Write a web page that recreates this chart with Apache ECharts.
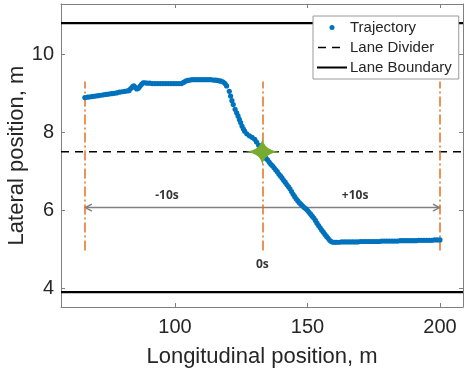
<!DOCTYPE html>
<html>
<head>
<meta charset="utf-8">
<script src="https://cdn.jsdelivr.net/npm/echarts@6/dist/echarts.min.js"></script>
<style>html,body{margin:0;padding:0;background:#fff;}#c{width:465px;height:369px;}</style>
</head>
<body>
<div id="c"></div>
<script>
// ---- data ----
const xRange = [57, 208.7];
const yRange = [3.52, 11.29];
const xTicks = [100, 150, 200];
const yTicks = [4, 6, 8, 10];
const laneBoundaryY = [10.8, 3.9];
const laneDividerY = 7.5;
const markerX = [66, 133, 200];
const markerYSpan = [4.97, 9.3];
const arrowX = [66, 133, 200];
const arrowY = 6.07;
const timeLabels = ['-10s', '0s', '+10s'];
const timeLabelX = [97, 133, 168];
const timeLabelY = [6.37, 4.62, 6.37];
const crossingPoint = [133, 7.5];
const trajectoryBefore = [
  [66,8.89],[67,8.90],[68,8.91],[69,8.92],[70,8.93],[71,8.94],[72,8.95],[73,8.96],[74,8.97],[75,8.98],
  [76,8.99],[77,9.00],[78,9.01],[79,9.03],[80,9.04],[81,9.05],[82,9.06],[82.7,9.07],[83.3,9.12],[84,9.17],
  [84.5,9.19],[85,9.15],[85.6,9.11],[86.2,9.13],[86.8,9.18],[87.4,9.23],[88,9.27],[88.7,9.27],[89.5,9.26],[90.5,9.26],
  [91.5,9.25],[92.5,9.25],[93.5,9.25],[94.5,9.25],[95.5,9.25],[96.5,9.25],[97.5,9.25],[98.5,9.25],[99.5,9.25],[100.5,9.25],
  [101.5,9.25],[102.5,9.25],[103.2,9.28],[104,9.31],[104.8,9.33],[105.6,9.34],[106.5,9.35],[107.5,9.35],[108.5,9.35],[109.5,9.35],
  [110.5,9.35],[111.5,9.35],[112.5,9.35],[113.5,9.35],[114.5,9.34],[115.3,9.34],[116,9.33],[116.7,9.32],[117.4,9.31],[118.2,9.29],
  [118.9,9.25],[119.5,9.19],[120.5,9.05],[121.0,8.93],[121.5,8.81],[122.0,8.71],[122.7,8.59],[123.3,8.50],[123.8,8.42],[124.3,8.33],
  [124.8,8.25],[125.3,8.16],[125.8,8.09],[126.3,8.03],[127.1,7.96],[128.1,7.91],[129.1,7.87],[130.1,7.82],[130.8,7.75],[131.6,7.67],
  [132.1,7.58],[132.6,7.49]
];
const trajectoryAfter = [
  [133.2,7.43],[133.8,7.38],[134.4,7.33],[135.0,7.29],[135.6,7.23],[136.2,7.18],[136.8,7.14],[137.4,7.09],[138.0,7.04],[138.6,6.99],
  [139.2,6.93],[139.8,6.88],[140.4,6.83],[141.0,6.77],[141.6,6.72],[142.2,6.66],[142.8,6.61],[143.4,6.55],[144.0,6.48],[144.6,6.41],
  [145.2,6.35],[145.8,6.29],[146.4,6.24],[147.0,6.19],[147.6,6.15],[148.2,6.11],[148.8,6.07],[149.4,6.04],[150.0,6.00],[150.6,5.95],
  [151.2,5.90],[151.8,5.85],[152.4,5.80],[153.0,5.74],[153.6,5.67],[154.2,5.61],[154.8,5.55],[155.4,5.49],[156.0,5.44],[156.6,5.38],
  [157.2,5.33],[157.8,5.28],[158.4,5.23],[159.0,5.20],[159.6,5.18],[160.3,5.18],[161,5.18],[162,5.18],[163,5.19],[164,5.19],
  [165,5.19],[166,5.19],[167,5.19],[168,5.19],[169,5.19],[170,5.20],[171,5.20],[172,5.20],[173,5.20],[174,5.20],
  [175,5.20],[176,5.20],[177,5.20],[178,5.21],[179,5.21],[180,5.21],[181,5.21],[182,5.21],[183,5.21],[184,5.21],
  [185,5.22],[186,5.22],[187,5.22],[188,5.22],[189,5.22],[190,5.22],[191,5.22],[192,5.23],[193,5.23],[194,5.23],
  [195,5.23],[196,5.23],[197,5.23],[198,5.24],[199,5.24],[200,5.24]
];

// ---- styles ----
const FONT = 'Liberation Sans, Arial, sans-serif';
const AXIS_GRAY = '#808080';
const TEXT = '#262626';
const BLUE = '#0072BD';
const ORANGE = '#E8701F';
const GREEN = '#77AC30';

const chart = echarts.init(document.getElementById('c'), null, {renderer: 'canvas'});

function baseX(pos, showLabel) {
  return {
    type: 'value', position: pos, min: xRange[0], max: xRange[1],
    axisLine: {show: true, onZero: false, lineStyle: {color: AXIS_GRAY, width: 1}},
    axisTick: {show: true, inside: true, length: 4, customValues: xTicks, lineStyle: {color: AXIS_GRAY}},
    axisLabel: {show: showLabel, customValues: xTicks, color: TEXT, fontSize: 20, fontFamily: FONT, margin: 10},
    splitLine: {show: false}
  };
}
function baseY(pos, showLabel) {
  return {
    type: 'value', position: pos, min: yRange[0], max: yRange[1],
    axisLine: {show: true, onZero: false, lineStyle: {color: AXIS_GRAY, width: 1}},
    axisTick: {show: true, inside: true, length: 4, customValues: yTicks, lineStyle: {color: AXIS_GRAY}},
    axisLabel: {show: showLabel, customValues: yTicks, color: TEXT, fontSize: 20, fontFamily: FONT, margin: 7},
    splitLine: {show: false}
  };
}

const xBottom = Object.assign(baseX('bottom', true), {
  name: 'Longitudinal position, m', nameLocation: 'middle', nameGap: 39,
  nameTextStyle: {color: TEXT, fontSize: 22, fontFamily: FONT}
});
const yLeft = Object.assign(baseY('left', true), {
  name: 'Lateral position, m', nameLocation: 'middle', nameGap: 33, nameMoveOverlap: false,
  nameTextStyle: {color: TEXT, fontSize: 22, fontFamily: FONT}
});

const markerLines = markerX.map(x => [{coord: [x, markerYSpan[0]]}, {coord: [x, markerYSpan[1]]}]);

const option = {
  backgroundColor: '#fff',
  animation: false,
  grid: {left: 61, right: 2, top: 4, bottom: 62, containLabel: false, outerBoundsMode: 'none'},
  xAxis: [xBottom, baseX('top', false)],
  yAxis: [yLeft, baseY('right', false)],
  legend: {
    orient: 'vertical', left: 313, top: 16,
    padding: [4, 7, 4, 4], itemGap: 5, itemWidth: 30, itemHeight: 14,
    backgroundColor: '#fff', borderColor: '#9a9a9a', borderWidth: 1, borderRadius: 0,
    textStyle: {color: TEXT, fontSize: 15, fontFamily: FONT, padding: [0, 0, 0, -2]},
    data: [
      {name: 'Trajectory', icon: 'path://M0,0 M30,14 M12.5,7 A2.5,2.5 0 1,0 17.5,7 A2.5,2.5 0 1,0 12.5,7 Z',
       itemStyle: {color: BLUE}},
      {name: 'Lane Divider', icon: 'path://M0,0 M30,14 M1,6.2 L9,6.2 L9,7.8 L1,7.8 Z M15,6.2 L23,6.2 L23,7.8 L15,7.8 Z',
       itemStyle: {color: '#000'}},
      {name: 'Lane Boundary', icon: 'path://M0,0 M30,14 M0,6 L30,6 L30,8 L0,8 Z',
       itemStyle: {color: '#000'}}
    ]
  },
  series: [
    {
      name: 'Lane Boundary', type: 'line', symbol: 'none', silent: true, z: 2,
      itemStyle: {color: '#000'},
      lineStyle: {color: '#000', width: 2.2},
      data: [[xRange[0], laneBoundaryY[0]], [xRange[1], laneBoundaryY[0]]]
    },
    {
      name: 'Lane Boundary', type: 'line', symbol: 'none', silent: true, z: 2,
      itemStyle: {color: '#000'},
      lineStyle: {color: '#000', width: 2.2},
      data: [[xRange[0], laneBoundaryY[1]], [xRange[1], laneBoundaryY[1]]]
    },
    {
      name: 'Lane Divider', type: 'line', symbol: 'none', silent: true, z: 2,
      itemStyle: {color: '#000'},
      lineStyle: {color: '#000', width: 1.6, type: [8, 6]},
      data: [[xRange[0], laneDividerY], [xRange[1], laneDividerY]]
    },
    {
      name: 'markers', type: 'line', data: [], silent: true, z: 3,
      markLine: {
        silent: true, symbol: 'none', animation: false,
        label: {show: false},
        lineStyle: {color: ORANGE, width: 1.5, type: [10, 3, 2, 3]},
        data: markerLines
      }
    },
    {
      name: 'arrow', type: 'custom', silent: true, z: 4,
      data: [[arrowX[0], arrowY]],
      renderItem: function (params, api) {
        const p0 = api.coord([arrowX[0], arrowY]);
        const p1 = api.coord([arrowX[2], arrowY]);
        const st = {stroke: '#808080', lineWidth: 1.5, fill: null};
        return {
          type: 'group',
          children: [
            {type: 'line', shape: {x1: p0[0], y1: p0[1], x2: p1[0], y2: p1[1]}, style: st},
            {type: 'polyline', shape: {points: [[p0[0] + 7, p0[1] - 3.5], [p0[0] + 0.5, p0[1]], [p0[0] + 7, p0[1] + 3.5]]}, style: st},
            {type: 'polyline', shape: {points: [[p1[0] - 7, p1[1] - 3.5], [p1[0] - 0.5, p1[1]], [p1[0] - 7, p1[1] + 3.5]]}, style: st}
          ]
        };
      }
    },
    {
      name: 'Trajectory', type: 'scatter', symbol: 'circle', symbolSize: 5.2, z: 5,
      itemStyle: {color: BLUE, opacity: 1},
      data: trajectoryBefore.concat(trajectoryAfter)
    },
    {
      name: 'crossing', type: 'scatter', z: 6, silent: true,
      symbol: 'path://M15,0 Q16.3,11.3 30,13 Q16.3,14.7 15,26 Q13.7,14.7 0,13 Q13.7,11.3 15,0 Z',
      symbolSize: [34, 27],
      itemStyle: {color: GREEN, opacity: 1},
      data: [crossingPoint]
    },
    {
      name: 'timeLabels', type: 'scatter', z: 7, silent: true, symbolSize: 0,
      data: timeLabels.map((t, i) => ({value: [timeLabelX[i], timeLabelY[i]], name: t})),
      label: {
        show: true, position: 'inside', formatter: p => p.name,
        color: '#000', fontSize: 12, fontWeight: 'bold', fontFamily: 'Open Sans, sans-serif'
      }
    }
  ]
};
chart.setOption(option);
</script>
</body>
</html>
